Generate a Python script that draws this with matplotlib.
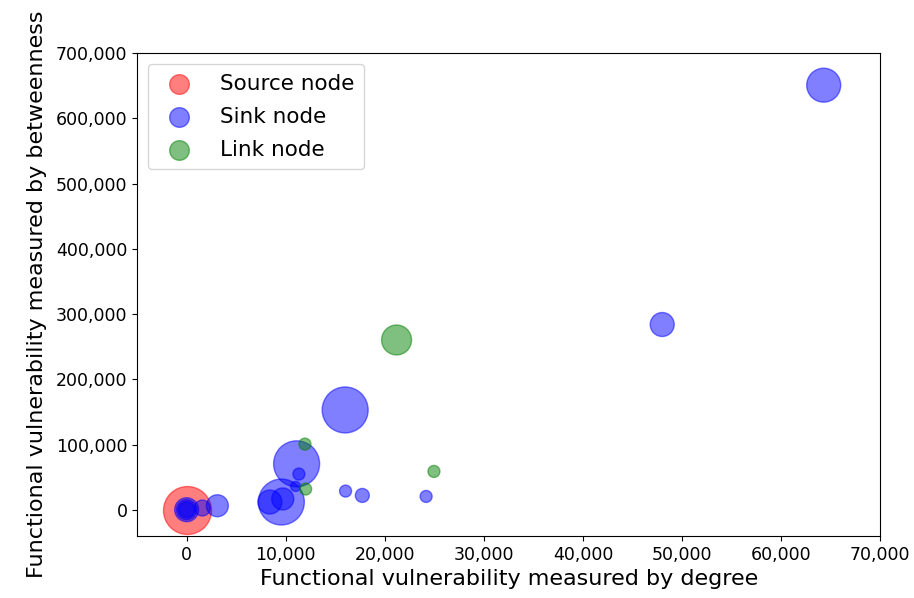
import matplotlib

matplotlib.use("Agg")
import matplotlib.pyplot as plt
from matplotlib.ticker import FuncFormatter

# source nodes
source_x = [0]
source_y = [0]
source_size = [24]

# sink nodes (x = degree based, y = betweenness based, size = radius estimate)
sink_x = [64300, 48000, 16000, 11100, 9560, 8400, 9700, 11330, 11000,
          0, 0, 0, 1580, 3100, 16040, 17730, 24170]
sink_y = [651000, 284000, 153000, 70400, 11800, 11800, 16500, 54700, 35700,
          0, 0, 0, 2600, 6100, 28600, 21900, 20400]
sink_size = [17, 12, 23, 23, 23, 12, 11, 6, 5,
             12, 10, 8, 8, 11, 6, 7, 6]

# link nodes
link_x = [21190, 11940, 12010, 24960]
link_y = [260300, 100600, 31700, 58700]
link_size = [15, 6, 6, 6]


def area(radii: list[float]) -> list[float]:
    return [(1.44 * r) ** 2 for r in radii]


def main() -> None:
    fig = plt.figure(figsize=(9.14, 5.98), dpi=100)
    ax = fig.add_axes([0.150, 0.104, 0.813, 0.807])

    ax.scatter(source_x, source_y, s=area(source_size), c="red", alpha=0.5, label="Source node")
    ax.scatter(sink_x, sink_y, s=area(sink_size), c="blue", alpha=0.5, label="Sink node")
    ax.scatter(link_x, link_y, s=area(link_size), c="green", alpha=0.5, label="Link node")

    ax.set_xlim(-5000, 70000)
    ax.set_ylim(-40000, 700000)
    ax.set_xticks(range(0, 70001, 10000))
    ax.set_yticks(range(0, 700001, 100000))
    fmt = FuncFormatter(lambda v, _: f"{int(v):,}")
    ax.xaxis.set_major_formatter(fmt)
    ax.yaxis.set_major_formatter(fmt)
    ax.tick_params(labelsize=12.5)

    ax.set_xlabel("Functional vulnerability measured by degree", fontsize=16, labelpad=4)
    ax.set_ylabel("Functional vulnerability measured by betweenness", fontsize=16, labelpad=6)

    leg = ax.legend(loc="upper left", fontsize=15.5, labelspacing=0.6, handletextpad=0.9,
                    borderpad=0.45)
    for h in leg.legend_handles:
        h.set_sizes([200])

    fig.savefig("out.png", dpi=100)


if __name__ == "__main__":
    main()
